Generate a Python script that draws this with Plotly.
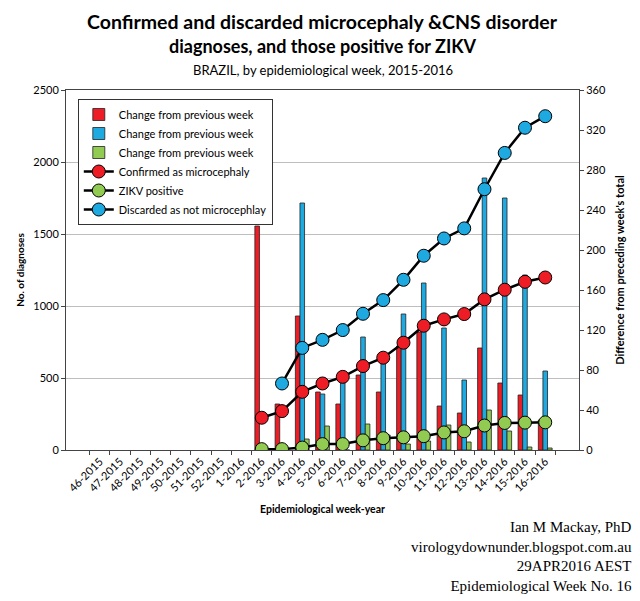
import plotly.graph_objects as go

# epidemiological weeks shown on the x axis
weeks = ['46-2015', '47-2015', '48-2015', '49-2015', '50-2015', '51-2015', '52-2015',
         '1-2016', '2-2016', '3-2016', '4-2016', '5-2016', '6-2016', '7-2016', '8-2016',
         '9-2016', '10-2016', '11-2016', '12-2016', '13-2016', '14-2016', '15-2016', '16-2016']

N = None
# cumulative totals (left axis)
confirmed = [N, N, N, N, N, N, N, N, 224, 270, 404, 462, 508, 583, 641,
             745, 863, 907, 944, 1046, 1113, 1168, 1198]
zikv = [N, N, N, N, N, N, N, N, 6, 6, 17, 41, 41, 67, 82,
        88, 96, 122, 130, 170, 188, 190, 192]
discarded = [N, N, N, N, N, N, N, N, N, 462, 709, 765, 833, 946, 1041,
             1182, 1349, 1469, 1539, 1811, 2063, 2238, 2318]

# change from previous week (right axis)
confirmed_chg = [N, N, N, N, N, N, N, N, 224, 46, 134, 58, 46, 75, 58,
                 104, 118, 44, 37, 102, 67, 55, 30]
discarded_chg = [N, N, N, N, N, N, N, N, N, N, 247, 56, 68, 113, 95,
                 136, 167, 122, 70, 272, 252, 175, 79]
zikv_chg = [N, N, N, N, N, N, N, N, N, 0, 11, 24, 0, 26, 15,
            6, 9, 25, 8, 40, 19, 3, 2]

RED = '#EE1C25'
BLUE = '#1EAAE1'
GREEN = '#92CB52'

fig = go.Figure()

# empty trace so the base (left, gridded) axis gets drawn underneath everything
fig.add_trace(go.Scatter(x=weeks, y=[N] * len(weeks), yaxis='y',
                         showlegend=False, hoverinfo='skip'))

for vals, col in [(confirmed_chg, RED), (discarded_chg, BLUE), (zikv_chg, GREEN)]:
    fig.add_trace(go.Bar(
        x=weeks, y=vals, yaxis='y2',
        name='Change from previous week',
        marker=dict(color=col, line=dict(color='#222222', width=0.8))
    ))

for vals, col, label in [(confirmed, RED, 'Confirmed as microcephaly'),
                         (zikv, GREEN, 'ZIKV positive'),
                         (discarded, BLUE, 'Discarded as not microcephlay')]:
    fig.add_trace(go.Scatter(
        x=weeks, y=vals, yaxis='y3',
        mode='lines+markers', name=label,
        line=dict(color='black', width=2.5),
        marker=dict(color=col, size=13, line=dict(color='black', width=1))
    ))

axis_font = dict(family='Lato, Carlito, sans-serif', size=11, color='black')

# page body adds an 8px offset, so the figure is drawn 8px smaller
fig.update_layout(
    width=632, height=593,
    margin=dict(l=58, r=61, t=82, b=151),
    paper_bgcolor='white', plot_bgcolor='white',
    barmode='group', bargap=0.32, bargroupgap=0,
    font=axis_font,
    xaxis=dict(
        type='category', tickangle=-45, tickson='boundaries',
        ticks='outside', ticklen=4, tickcolor='#444',
        showline=True, linecolor='#444', linewidth=1, mirror=True,
        tickfont=dict(size=11), automargin=False,
        title=dict(text='<b>Epidemiological week-year</b>', font=dict(size=10.5), standoff=12)
    ),
    yaxis=dict(
        range=[0, 2500], dtick=500, side='left',
        showgrid=True, gridcolor='#BEBEBE', gridwidth=1, zeroline=False,
        ticks='outside', ticklen=4, tickcolor='#444',
        showline=True, linecolor='#444', linewidth=1,
        tickfont=dict(size=11), automargin=False,
        title=dict(text='<b>No. of diagnoses</b>', font=dict(size=10), standoff=6)
    ),
    yaxis2=dict(
        range=[0, 360], dtick=40, side='right', overlaying='y',
        showgrid=False, zeroline=False,
        ticks='outside', ticklen=4, tickcolor='#444',
        showline=True, linecolor='#444', linewidth=1,
        tickfont=dict(size=11), automargin=False,
        title=dict(text="<b>Difference from preceding week's total</b>", font=dict(size=11), standoff=11)
    ),
    yaxis3=dict(
        range=[0, 2500], overlaying='y', visible=False, showgrid=False
    ),
    legend=dict(
        x=0.023, y=0.975, xanchor='left', yanchor='top',
        bgcolor='white', bordercolor='#333', borderwidth=1,
        font=dict(size=11), tracegroupgap=0, traceorder='normal'
    ),
    annotations=[
        dict(xref='paper', yref='paper', x=0.5, y=1.19, xanchor='center', yanchor='middle',
             showarrow=False, text='<b>Confirmed and discarded microcephaly &CNS disorder</b>',
             font=dict(family='Lato, sans-serif', size=19.5)),
        dict(xref='paper', yref='paper', x=0.5, y=1.122, xanchor='center', yanchor='middle',
             showarrow=False, text='<b>diagnoses, and those positive for ZIKV</b>',
             font=dict(family='Lato, sans-serif', size=18)),
        dict(xref='paper', yref='paper', x=0.5, y=1.055, xanchor='center', yanchor='middle',
             showarrow=False, text='BRAZIL, by epidemiological week, 2015-2016',
             font=dict(family='Lato, sans-serif', size=13)),
        dict(xref='paper', yref='paper', x=1.108, y=-0.185, xanchor='right', yanchor='top',
             align='right', showarrow=False,
             text='Ian M Mackay, PhD<br>virologydownunder.blogspot.com.au<br>29APR2016 AEST<br>Epidemiological Week No. 16',
             font=dict(family='Liberation Serif, serif', size=15, color='black'))
    ]
)

fig.write_html("out.html")
